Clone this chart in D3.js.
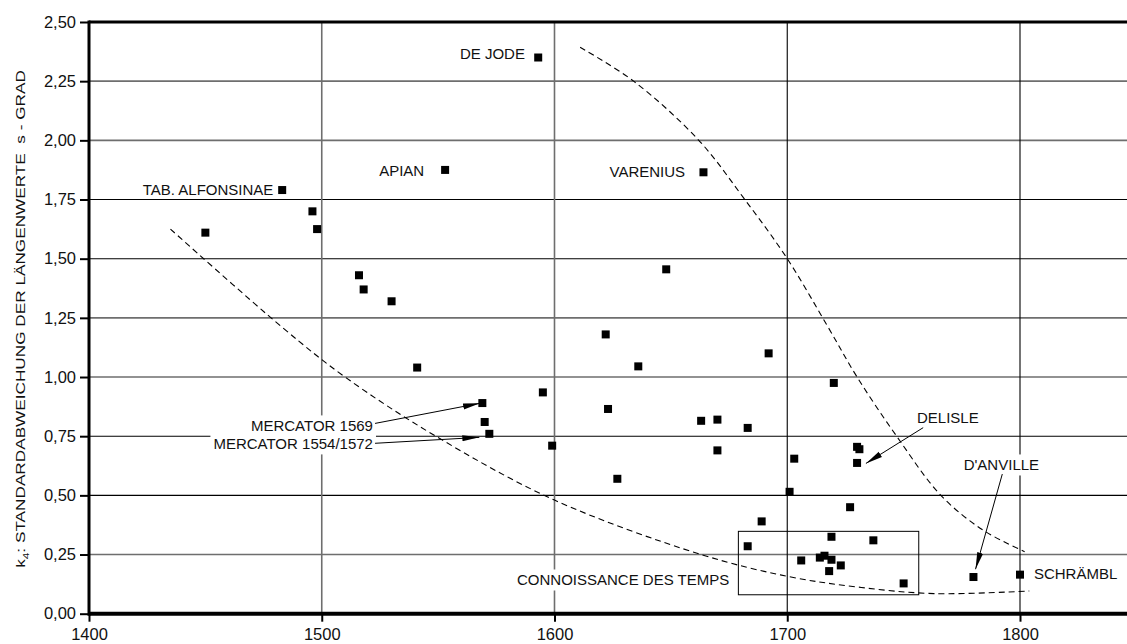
<!DOCTYPE html>
<html>
<head>
<meta charset="utf-8">
<script src="https://cdn.jsdelivr.net/npm/d3@7"></script>
<style>
  html, body { margin: 0; padding: 0; background: #fff; }
  svg { display: block; font-family: "Liberation Sans", Arial, sans-serif; }
</style>
</head>
<body>
<svg id="chart" width="1127" height="644"></svg>
<script>
// ---------- data ----------
const years  = [1450,1483,1496,1498,1516,1518,1530,1541,1553,1569,1570,1572,1593,1595,1599,1622,1623,1627,1636,1648,1663,1664,1670,1670,1683,1683,1689,1692,1701,1703,1706,1714,1716,1718,1719,1719,1720,1723,1727,1730,1731,1730,1737,1750,1780,1800];
const values = [1.61,1.79,1.70,1.625,1.43,1.37,1.32,1.04,1.875,0.89,0.81,0.76,2.35,0.935,0.71,1.18,0.865,0.57,1.045,1.455,0.815,1.865,0.82,0.69,0.785,0.285,0.39,1.10,0.515,0.655,0.225,0.237,0.245,0.18,0.325,0.228,0.975,0.204,0.45,0.705,0.695,0.637,0.31,0.128,0.155,0.165];

const xTicks = [1400,1500,1600,1700,1800];
const yTicks = [0,0.25,0.5,0.75,1.0,1.25,1.5,1.75,2.0,2.25,2.5];
const yGridGray = [0.25,1.0,1.25,2.0,2.25];
const xGridGray = [1500,1600];

// dashed envelope curves (year, value)
const lowerCurveYears  = [1435,1483,1510,1549,1600,1663,1700,1730,1763,1804];
const lowerCurveValues = [1.625,1.21,1.0,0.75,0.48,0.25,0.158,0.113,0.085,0.096];
const upperCurveYears  = [1611,1634,1662,1681,1700,1717,1730,1747,1766,1784,1802];
const upperCurveValues = [2.393,2.25,2.0,1.76,1.5,1.22,1.0,0.75,0.5,0.354,0.262];

// annotation labels: text, anchor year/value, text-anchor, white background?
const labelTexts   = ["TAB. ALFONSINAE","APIAN","DE JODE","VARENIUS","MERCATOR 1569","MERCATOR 1554/1572","DELISLE","D'ANVILLE","SCHRÄMBL","CONNOISSANCE DES TEMPS"];
const labelYears   = [1479.2,1544,1587.3,1656.1,1522,1522,1769,1792,1806,1675.1];
const labelValues  = [1.790,1.874,2.365,1.866,0.793,0.717,0.828,0.628,0.171,0.142];
const labelAnchors = ["end","end","end","end","end","end","middle","middle","start","end"];
const labelBg      = [false,false,false,false,true,true,false,true,false,true];

// arrows: from (year,value) to (year,value)
const arrowFromYears  = [1522.9,1522.9,1758.4,1792.4];
const arrowFromValues = [0.804,0.720,0.786,0.590];
const arrowToYears    = [1568,1567.7,1733.8,1780.9];
const arrowToValues   = [0.889,0.745,0.635,0.188];

// highlighted box (Connoissance des temps)
const boxYears  = [1679,1756.5];
const boxValues = [0.080,0.348];

// ---------- chart ----------
const left = 89, rightEdge = 1127;
const x = d3.scaleLinear().domain([1400,1800]).range([89,1020]);
const y = d3.scaleLinear().domain([0,2.5]).range([613.7,22]);

const svg = d3.select("#chart");
const defs = svg.append("defs");
defs.append("marker")
  .attr("id","arrow")
  .attr("markerUnits","userSpaceOnUse")
  .attr("markerWidth",18).attr("markerHeight",8)
  .attr("refX",17).attr("refY",4)
  .attr("orient","auto")
  .append("path").attr("d","M0,1 L17,4 L0,7 Z").attr("fill","#000");

// grid
const g = svg.append("g");
g.selectAll("line.hg").data(yTicks.filter(d => d > 0 && d < 2.5)).join("line")
  .attr("class","hg")
  .attr("x1",left).attr("x2",rightEdge)
  .attr("y1",d => y(d)).attr("y2",d => y(d))
  .attr("stroke",d => yGridGray.includes(d) ? "#6e6e6e" : "#000")
  .attr("stroke-width",d => yGridGray.includes(d) ? 1.6 : 1.1);
g.selectAll("line.vg").data(xTicks.filter(d => d > 1400)).join("line")
  .attr("class","vg")
  .attr("x1",d => x(d)).attr("x2",d => x(d))
  .attr("y1",y(2.5)).attr("y2",y(0))
  .attr("stroke",d => xGridGray.includes(d) ? "#6e6e6e" : "#000")
  .attr("stroke-width",d => xGridGray.includes(d) ? 1.6 : 1.1);

// box
svg.append("rect")
  .attr("x",x(boxYears[0])).attr("y",y(boxValues[1]))
  .attr("width",x(boxYears[1]) - x(boxYears[0]))
  .attr("height",y(boxValues[0]) - y(boxValues[1]))
  .attr("fill","none").attr("stroke","#000").attr("stroke-width",1);

// curves
const line = d3.line().x(d => x(d[0])).y(d => y(d[1])).curve(d3.curveCatmullRom.alpha(0.5));
[[lowerCurveYears,lowerCurveValues],[upperCurveYears,upperCurveValues]].forEach(([ys_,vs]) => {
  svg.append("path")
    .datum(ys_.map((yr,i) => [yr, vs[i]]))
    .attr("d",line)
    .attr("fill","none").attr("stroke","#000").attr("stroke-width",1.1)
    .attr("stroke-dasharray","6,4");
});

// points
const pts = years.map((yr,i) => ({yr, v: values[i]}));
svg.selectAll("rect.pt").data(pts).join("rect")
  .attr("class","pt")
  .attr("x",d => x(d.yr) - 4).attr("y",d => y(d.v) - 4)
  .attr("width",8).attr("height",8).attr("fill","#000");

// labels
const labels = labelTexts.map((t,i) => ({t, yr: labelYears[i], v: labelValues[i], a: labelAnchors[i], bg: labelBg[i]}));
const lg = svg.append("g").attr("font-size",15).attr("fill","#111");
labels.forEach(d => {
  const grp = lg.append("g");
  const bgRect = grp.append("rect").attr("fill","#fff");
  const txt = grp.append("text")
    .attr("x",x(d.yr)).attr("y",y(d.v))
    .attr("dy","0.36em")
    .attr("text-anchor",d.a)
    .text(d.t);
  if (d.bg) {
    const bb = txt.node().getBBox();
    bgRect.attr("x",bb.x - 3).attr("y",bb.y - 2).attr("width",bb.width + 6).attr("height",bb.height + 4);
  } else bgRect.remove();
});

// arrows
const arrows = arrowFromYears.map((yr,i) => ({x1: yr, y1: arrowFromValues[i], x2: arrowToYears[i], y2: arrowToValues[i]}));
svg.selectAll("line.arr").data(arrows).join("line")
  .attr("class","arr")
  .attr("x1",d => x(d.x1)).attr("y1",d => y(d.y1))
  .attr("x2",d => x(d.x2)).attr("y2",d => y(d.y2))
  .attr("stroke","#000").attr("stroke-width",1)
  .attr("marker-end","url(#arrow)");

// frame lines
svg.append("line").attr("x1",left).attr("x2",rightEdge).attr("y1",y(2.5)).attr("y2",y(2.5))
  .attr("stroke","#000").attr("stroke-width",3);
svg.append("line").attr("x1",left).attr("x2",rightEdge).attr("y1",y(0)).attr("y2",y(0))
  .attr("stroke","#000").attr("stroke-width",4);
svg.append("line").attr("x1",left).attr("x2",left).attr("y1",y(2.5) - 1.5).attr("y2",y(0) + 2)
  .attr("stroke","#000").attr("stroke-width",3);

// axes
const yAxis = svg.append("g").attr("transform",`translate(${left},0)`)
  .call(d3.axisLeft(y).tickValues(yTicks).tickSize(9).tickPadding(4)
    .tickFormat(d => d.toFixed(2).replace(".",",")));
yAxis.select(".domain").remove();
yAxis.selectAll(".tick line").attr("stroke","#000").attr("stroke-width",2);
yAxis.selectAll(".tick text").attr("font-size",16.5).attr("font-family","Liberation Sans, Arial, sans-serif").attr("fill","#111");

const xAxis = svg.append("g").attr("transform",`translate(0,${y(0)})`)
  .call(d3.axisBottom(x).tickValues(xTicks).tickSize(8).tickPadding(7).tickFormat(d3.format("d")));
xAxis.select(".domain").remove();
xAxis.selectAll(".tick line").attr("stroke","#000").attr("stroke-width",2);
xAxis.selectAll(".tick text").attr("font-size",16.5).attr("font-family","Liberation Sans, Arial, sans-serif").attr("fill","#111");

// y title (measured, then stretched to the reference length)
const titleTop = 70, titleBottom = 568;
const titleG = svg.append("g");
const title = titleG.append("text")
  .attr("text-anchor","middle")
  .attr("font-size",13)
  .attr("fill","#111")
  .style("white-space","pre");
title.append("tspan").text("k");
title.append("tspan").attr("font-size",9).attr("dy",4).text("4");
title.append("tspan").attr("dy",-4).text(": STANDARDABWEICHUNG DER LÄNGENWERTE  s - GRAD");
const tb = title.node().getBBox();
const sx = (titleBottom - titleTop) / tb.width;
title.attr("transform",`translate(${-(tb.x + tb.width / 2)},0)`);
titleG.attr("transform",`translate(25,${(titleTop + titleBottom) / 2}) rotate(-90) scale(${sx},1)`);
</script>
</body>
</html>
